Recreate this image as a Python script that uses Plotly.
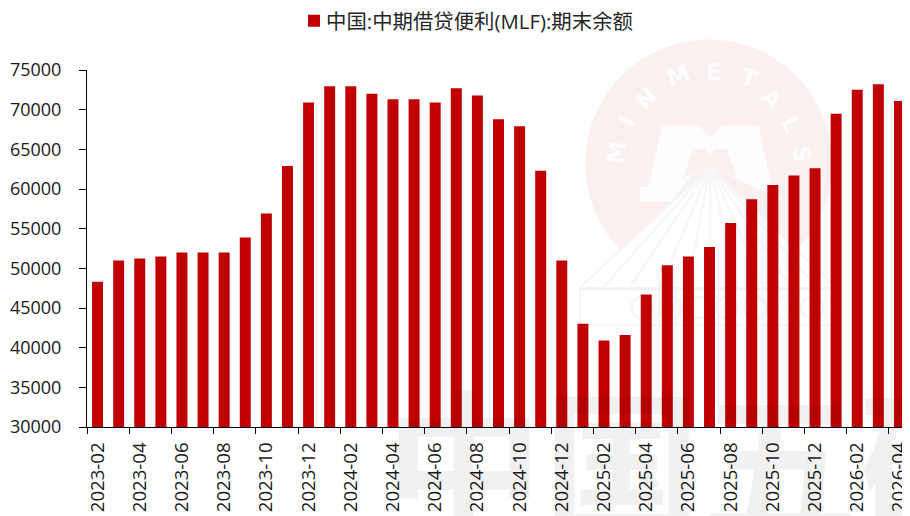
import math
import plotly.graph_objects as go

months = ["2023-02","2023-03","2023-04","2023-05","2023-06","2023-07","2023-08","2023-09","2023-10","2023-11","2023-12",
          "2024-01","2024-02","2024-03","2024-04","2024-05","2024-06","2024-07","2024-08","2024-09","2024-10","2024-11","2024-12",
          "2025-01","2025-02","2025-03","2025-04","2025-05","2025-06","2025-07","2025-08","2025-09","2025-10","2025-11","2025-12",
          "2026-01","2026-02","2026-03","2026-04"]
mlf = [48300,51000,51250,51500,52000,52000,52000,53900,56900,62900,70900,
       72960,72960,72000,71300,71300,70900,72700,71800,68800,67900,62300,51000,
       43000,40900,41600,46700,50400,51500,52700,55700,58700,60500,61700,62600,
       69500,72500,73200,71100]
series_name = "中国:中期借贷便利(MLF):期末余额"
FONT = "Open Sans, Noto Sans CJK SC"

# plot box in page pixels (the page body has an 8px margin)
L, R, T, B = 87, 909.6, 69.5, 426.8
W, H = 902, 508
def px(x): return (x - L) / (R - L)
def py(y): return (B - y) / (B - T)
def zx(x): return 570 + x / 3
def zy(y): return 30 + y / 3
def path(pts):
    return "M" + "L".join(f"{px(zx(a)):.4f},{py(zy(b)):.4f}" for a, b in pts) + "Z"

shapes = []
def add(**k):
    k.setdefault("xref", "paper"); k.setdefault("yref", "paper"); k.setdefault("layer", "below")
    shapes.append(k)

# watermark: disc
add(type="circle", x0=px(585), x1=px(832), y0=py(287), y1=py(39), fillcolor="#FBF0F0", line_width=0)
# roof + base
add(type="path", path=path([(420,410),(30,770),(30,885),(795,885),(795,770)]), fillcolor="#FFFFFF",
    line=dict(color="#F5F5F5", width=2))
for a in [100,180,270,350,420,500,580,660,740]:
    add(type="line", x0=px(zx(420)), y0=py(zy(410)), x1=px(zx(a)), y1=py(zy(770)), line=dict(color="#F7F7F7", width=2.5))
add(type="line", x0=px(zx(30)), y0=py(zy(775)), x1=px(zx(795)), y1=py(zy(775)), line=dict(color="#F2F2F2", width=3))
for c in [215, 300, 385, 470, 555, 640, 725]:
    add(type="circle", x0=px(zx(c-33)), x1=px(zx(c+33)), y0=py(zy(865)), y1=py(zy(800)), line=dict(color="#F6F6F6", width=3))
# watermark: M
add(type="path", path=path([(275,285),(385,285),(420,320),(455,285),(565,285),(605,470),(640,515),(470,430),(420,415),(370,430),(300,515),(210,515),(210,470),(235,470)]),
    fillcolor="#FDFDFD", line_width=0)
add(type="path", path=path([(340,440),(368,355),(405,355),(420,378),(435,355),(470,355),(498,440),(430,415),(410,415)]),
    fillcolor="#FBF0F0", line_width=0)

annos = []
cx0, cy0 = 420, 410
for ch, a, b in zip("MINMETALS", [140,172,228,325,430,535,605,660,695], [365,272,205,135,125,142,205,282,370]):
    rot = math.degrees(math.atan2(a - cx0, cy0 - b))
    annos.append(dict(text=ch, xref="paper", yref="paper", x=px(zx(a)), y=py(zy(b)), xanchor="center", yanchor="middle",
                      showarrow=False, textangle=rot, font=dict(family="DejaVu Sans", size=23, color="#FDFDFD", weight="bold")))
# watermark: large faint characters running off the bottom
annos.append(dict(text="中国五矿", xref="paper", yref="paper", x=px(383), y=py(340), xanchor="left", yanchor="top",
                  showarrow=False, font=dict(family="Noto Sans CJK SC", size=158, color="rgba(0,0,0,0.055)", weight="bold")))

fig = go.Figure()
fig.add_bar(x=months, y=mlf, name=series_name, marker=dict(color="#C00000", line_width=0), width=0.52)
fig.update_layout(
    width=W, height=H, autosize=False,
    margin=dict(l=L-8, r=W+8-R, t=T-8, b=H-(B-8)),
    paper_bgcolor="white", plot_bgcolor="rgba(0,0,0,0)",
    font=dict(family=FONT, size=18, color="#1a1a1a"),
    showlegend=True,
    legend=dict(orientation="h", xref="container", yref="container",
                x=(286-8)/W, xanchor="left", y=1-(21-8)/H, yanchor="middle",
                font=dict(size=20.4, color="#262626"), itemwidth=30),
    xaxis=dict(type="category", range=[-0.5,38.5], automargin=False, dtick=2, tickson="boundaries", ticks="outside", ticklen=6, tickwidth=1,
               tickcolor="#000", linecolor="#000", linewidth=1, showline=True, tickangle=-90,
               showgrid=False, tickfont=dict(size=18.6), ticklabelstandoff=7),
    yaxis=dict(range=[30000,75000], automargin=False, dtick=5000, ticks="outside", ticklen=7, tickwidth=1, tickcolor="#000",
               linecolor="#000", linewidth=1, showline=True, showgrid=False, zeroline=False,
               tickformat="d", tickfont=dict(size=18), ticklabelstandoff=14),
    shapes=shapes, annotations=annos,
)
# the reference sets its legend swatch closer to the label than Plotly's minimum item width allows
fig.write_html("out.html", post_script="document.querySelectorAll('.legendsymbols').forEach(function(g){g.setAttribute('transform','translate(8,0)');});")
